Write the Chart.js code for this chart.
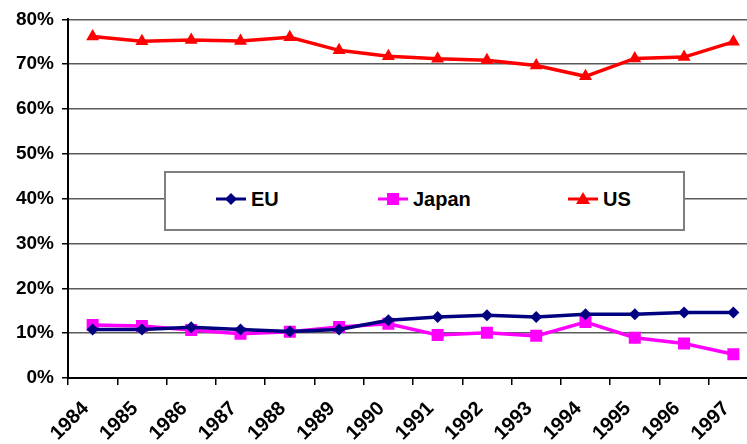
<!DOCTYPE html>
<html lang="en">
<head>
    <meta charset="UTF-8">
    <title>EU / Japan / US share</title>
    <script src="https://cdn.jsdelivr.net/npm/chart.js"></script>
    <style>
        html, body { margin: 0; padding: 0; background: #fff; overflow: hidden; }
        .wrap { position: relative; width: 747px; height: 444px; overflow: hidden; }
        #legend {
            position: absolute; left: 164px; top: 171px; width: 517px; height: 56px;
            background: #fff; border: 2px solid #7f7f7f;
            font: bold 20px "Liberation Sans", Arial, sans-serif; color: #000;
        }
        #legend .item { position: absolute; top: 14px; height: 24px; line-height: 24px; white-space: nowrap; }
        #legend svg { vertical-align: middle; margin-right: 5px; position: relative; top: -2px; }
    </style>
</head>
<body>
<div class="wrap">
    <canvas id="myChart" width="770" height="444"></canvas>
    <div id="legend"></div>
</div>

<script>
    // values (share in %)
    const years = ['1984', '1985', '1986', '1987', '1988', '1989', '1990',
                   '1991', '1992', '1993', '1994', '1995', '1996', '1997'];
    const euShare    = [10.8, 10.8, 11.3, 10.8, 10.4, 10.8, 12.9, 13.6, 14.0, 13.6, 14.2, 14.2, 14.6, 14.6];
    const japanShare = [11.8, 11.6, 10.7,  9.9, 10.3, 11.4, 12.1,  9.6, 10.1,  9.4, 12.5,  9.0,  7.7,  5.3];
    const usShare    = [76.2, 75.1, 75.4, 75.2, 76.0, 73.1, 71.8, 71.2, 70.9, 69.7, 67.3, 71.3, 71.6, 75.0];
    const yTicks = [0, 10, 20, 30, 40, 50, 60, 70, 80];

    const yFont = { family: '"Liberation Sans", Arial, sans-serif', size: 19, weight: 'bold' };
    const xFont = { family: '"Liberation Sans", Arial, sans-serif', size: 20, weight: 'bold' };

    const datasets = [
        { label: 'EU', data: euShare, borderColor: '#000080', backgroundColor: '#000080',
          pointStyle: 'rectRot', pointRadius: 6 },
        { label: 'Japan', data: japanShare, borderColor: '#ff00ff', backgroundColor: '#ff00ff',
          pointStyle: 'rect', pointRadius: 8.5 },
        { label: 'US', data: usShare, borderColor: '#ff0000', backgroundColor: '#ff0000',
          pointStyle: 'triangle', pointRadius: 7.5 }
    ];
    datasets.forEach(d => {
        d.borderWidth = 3.5;
        d.tension = 0;
        d.pointBorderWidth = 0;
        d.pointHoverRadius = d.pointRadius;
    });

    const myChart = new Chart(document.getElementById('myChart'), {
        type: 'line',
        data: { labels: years, datasets: datasets },
        options: {
            responsive: false,
            animation: false,
            layout: { padding: { top: 18, right: 12, left: 0, bottom: 0 } },
            plugins: { legend: { display: false }, tooltip: { enabled: false } },
            scales: {
                x: {
                    offset: true,
                    grid: { offset: true, drawOnChartArea: false, tickLength: 7, color: '#000', lineWidth: 1.5 },
                    border: { color: '#000', width: 2 },
                    ticks: { font: xFont, color: '#000', minRotation: 45, maxRotation: 45, padding: 12,
                             labelOffset: -7, autoSkip: false },
                    afterFit: s => { s.height = 66; }
                },
                y: {
                    min: 0,
                    max: 80,
                    afterBuildTicks: s => { s.ticks = yTicks.map(v => ({ value: v })); },
                    grid: { color: '#5a5a5a', lineWidth: 1.5, tickLength: 6, tickColor: '#000' },
                    border: { color: '#000', width: 2 },
                    ticks: { font: yFont, color: '#000', padding: 8, callback: v => v + '%' },
                    afterFit: s => { s.width = 68; }
                }
            }
        }
    });

    // legend box in the middle of the plot
    const legendPos = [50, 212, 402];
    const markers = {
        rectRot: c => `<polygon points="15,5 21,11 15,17 9,11" fill="${c}"/>`,
        rect: c => `<rect x="9" y="5" width="12" height="12" fill="${c}"/>`,
        triangle: c => `<polygon points="15,4 22,16 8,16" fill="${c}"/>`
    };
    const legend = document.getElementById('legend');
    datasets.forEach((d, i) => {
        const item = document.createElement('div');
        item.className = 'item';
        item.style.left = legendPos[i] + 'px';
        item.innerHTML = `<svg width="30" height="22"><line x1="0" y1="11" x2="30" y2="11" stroke="${d.borderColor}" stroke-width="3"/>` +
            markers[d.pointStyle](d.borderColor) + `</svg>${d.label}`;
        legend.appendChild(item);
    });
</script>
</body>
</html>
